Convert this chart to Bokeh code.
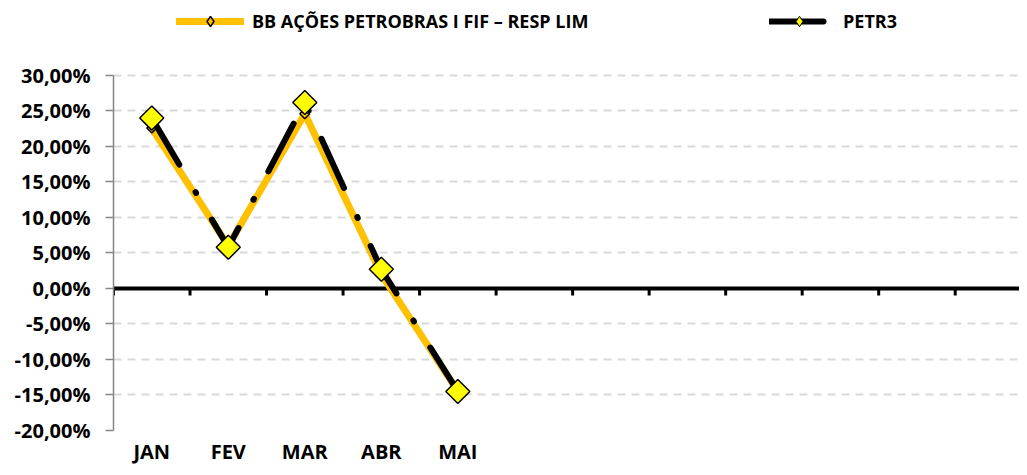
import math
from bokeh.plotting import figure
from bokeh.models import Span, Legend, LegendItem, FixedTicker, Range1d
from bokeh.embed import file_html
from bokeh.resources import INLINE

# ---- data ----
months = ["JAN", "FEV", "MAR", "ABR", "MAI"]
n_slots = 12
series_names = ["BB AÇÕES PETROBRAS I FIF – RESP LIM", "PETR3"]
bb_values = [22.6, 6.0, 24.6, 2.0, -14.5]
petr3_values = [24.0, 5.8, 26.2, 2.7, -14.5]
y_ticks = [-20, -15, -10, -5, 0, 5, 10, 15, 20, 25, 30]
y_tick_labels = ["-20,00%", "-15,00%", "-10,00%", "-5,00%", "0,00%", "5,00%",
                 "10,00%", "15,00%", "20,00%", "25,00%", "30,00%"]

x_pos = [i + 0.5 for i in range(len(months))]
slot_edges = list(range(n_slots + 1))

FONT = "Open Sans"
NAN = float("nan")

# frame spans the canvas from the top; the room above 30% holds the legend
p = figure(title=None, width=1019, height=467, output_backend="svg", toolbar_location=None,
           x_range=Range1d(0, 11.84), y_range=Range1d(-20, 40.56),
           min_border_left=113, min_border_right=0, min_border_top=0,
           min_border_bottom=37)
p.outline_line_color = None
p.background_fill_color = "white"
p.border_fill_color = "white"

# grid
p.xgrid.visible = False
p.ygrid.ticker = FixedTicker(ticks=y_ticks)
p.ygrid.grid_line_color = "#d9d9d9"
p.ygrid.grid_line_width = 2
p.ygrid.grid_line_dash = "8 6"

# y axis
p.yaxis.ticker = FixedTicker(ticks=y_ticks)
p.yaxis.bounds = (y_ticks[0], y_ticks[-1])
p.yaxis.major_label_overrides = {t: l for t, l in zip(y_ticks, y_tick_labels)}
p.yaxis.axis_line_color = "#868686"
p.yaxis.axis_line_width = 1.5
p.yaxis.major_tick_line_color = "#868686"
p.yaxis.major_tick_line_width = 1.5
p.yaxis.major_tick_out = 8
p.yaxis.major_tick_in = 0
p.yaxis.minor_tick_line_color = None
p.yaxis.major_label_standoff = 15
p.yaxis.major_label_text_font = FONT
p.yaxis.major_label_text_font_style = "bold"
p.yaxis.major_label_text_font_size = "20px"
p.yaxis.major_label_text_color = "black"

# x axis (labels only)
p.xaxis.ticker = FixedTicker(ticks=x_pos)
p.xaxis.major_label_overrides = {x: m for x, m in zip(x_pos, months)}
p.xaxis.axis_line_color = None
p.xaxis.major_tick_line_color = None
p.xaxis.minor_tick_line_color = None
p.xaxis.major_tick_out = 0
p.xaxis.major_label_standoff = 7
p.xaxis.major_label_text_line_height = 1.0
p.xaxis.major_label_text_font = FONT
p.xaxis.major_label_text_font_style = "bold"
p.xaxis.major_label_text_font_size = "20px"
p.xaxis.major_label_text_color = "black"

# zero line with category tick marks
zero = Span(location=0, dimension="width", line_color="black", line_width=4, level="underlay")
p.add_layout(zero)
p.segment(x0=slot_edges, y0=[0] * len(slot_edges), x1=slot_edges, y1=[-1.0] * len(slot_edges),
          line_color="black", line_width=3)

# series
r_bb_line = p.line(x_pos, bb_values, line_color="#FFC000", line_width=7,
                   line_join="round", line_cap="round")
r_bb_mark = p.scatter(x_pos, bb_values, marker="square", size=7, angle=math.pi / 4,
                      fill_color="#FFC000", line_color="black", line_width=1.5)
r_pe_line = p.line(x_pos, petr3_values, line_color="black", line_width=6,
                   line_dash="54 32 1 31", line_join="round", line_cap="round")
r_pe_mark = p.scatter(x_pos, petr3_values, marker="square", size=17, angle=math.pi / 4,
                      fill_color="#FFFF00", line_color="black", line_width=1.5)

# legend-only marker proxies (diamond shape; a single NaN row draws nothing in the plot)
proxy_bb = p.scatter(x=[NAN], y=[NAN], marker="diamond", fill_color="#FFC000",
                     line_color="black", line_width=1.5)
proxy_pe = p.scatter(x=[NAN], y=[NAN], marker="diamond", fill_color="#FFFF00",
                     line_color="black", line_width=1)


def make_legend(label, renderers, loc, gw, standoff):
    return Legend(items=[LegendItem(label=label, renderers=renderers)], location=loc,
                  orientation="horizontal", glyph_width=gw, glyph_height=26,
                  label_standoff=standoff, padding=0, margin=0, border_line_color=None,
                  background_fill_alpha=0, label_text_font=FONT,
                  label_text_font_style="bold", label_text_font_size="18px",
                  label_text_color="black")


leg1 = make_legend(series_names[0], [r_bb_line, proxy_bb], (63, 396), 68, 8)
leg2 = make_legend(series_names[1], [r_pe_line, proxy_pe], (656, 396), 60, 14)
p.add_layout(leg1)
p.add_layout(leg2)

open("out.html", "w").write(file_html(p, INLINE))
